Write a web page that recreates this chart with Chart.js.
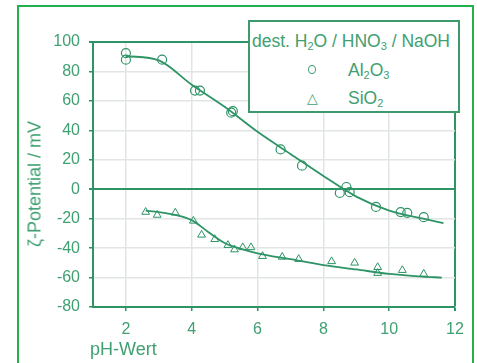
<!DOCTYPE html>
<html>
<head>
<meta charset="utf-8">
<script src="https://cdn.jsdelivr.net/npm/chart.js@4"></script>
<style>
  html, body { margin: 0; padding: 0; background: #fff; overflow: hidden; }
  body { width: 477px; height: 363px; position: relative; font-family: Arial, "Liberation Sans", Helvetica, sans-serif; color: #3fa071; }
  #c { position: absolute; left: 0; top: 0; }
  #frame { position: absolute; left: 17px; top: 5px; width: 453px; height: 400px; border: 2px solid #22b14c; }
  #legend { position: absolute; left: 248px; top: 20px; width: 208px; height: 89px; border: 2px solid #3c9a6c; background: #fff; }
  #legend div { position: absolute; white-space: nowrap; font-size: 17.5px; line-height: 18px; }
  #legend sub { font-size: 11px; vertical-align: -3px; line-height: 0; }
  #legend .ring { width: 6px; height: 7px; border: 1.3px solid #3fa071; border-radius: 50%; }
  #ytitle { position: absolute; left: 35px; top: 184px; font-size: 18px; white-space: nowrap; transform: translate(-50%, -50%) rotate(-90deg); }
  #xtitle { position: absolute; left: 90px; top: 339px; font-size: 18px; white-space: nowrap; }
</style>
</head>
<body>
<canvas id="c" width="477" height="363"></canvas>
<div id="frame"></div>
<div id="legend">
  <div style="left:2px; top:10px;">dest. H<sub>2</sub>O / HNO<sub>3</sub> / NaOH</div>
  <div class="ring" style="left:58px; top:43px;"></div>
  <div style="left:98px; top:39px;">Al<sub>2</sub>O<sub>3</sub></div>
  <div style="left:57px; top:67px; font-size:14px;">&#9651;</div>
  <div style="left:98px; top:67px;">SiO<sub>2</sub></div>
</div>
<div id="ytitle">ζ-Potential / mV</div>
<div id="xtitle">pH-Wert</div>
<script>
/* ============ Data ============ */
const alPh   = [2.0, 2.0, 3.1, 4.1, 4.25, 5.2, 5.25, 6.7, 7.35, 8.5, 8.7, 8.8, 9.6, 10.35, 10.55, 11.05];
const alZeta = [92.5, 88, 88, 67, 67, 52, 53, 27, 16, -2.5, 1.5, -2, -12, -15.5, -16, -19];

const siPh   = [2.6, 2.95, 3.5, 4.05, 4.3, 4.7, 5.1, 5.3, 5.55, 5.8, 6.15, 6.75, 7.25, 8.25, 8.95, 9.65, 9.65, 10.4, 11.05];
const siZeta = [-15.5, -17.5, -16, -21.5, -31, -34, -38, -41, -39.5, -39.5, -45.5, -46, -47.5, -49, -50, -53, -57, -55, -57.5];

// fitted curves
const alFitPh   = [2, 3, 4, 5, 6, 7, 8, 9, 10, 11, 11.65];
const alFitZeta = [90.5, 87.5, 71, 56, 39, 24, 9, -5, -14.5, -19.8, -23];
const siFitPh   = [2.6, 3, 3.5, 4, 4.5, 5, 5.5, 6, 7, 8, 9, 10, 11, 11.6];
const siFitZeta = [-14.5, -15.5, -17.5, -21, -29, -36.5, -40.5, -43.5, -47.5, -51.5, -54.5, -57.5, -59.3, -60];

const xTicks = [2, 4, 6, 8, 10, 12];
const yTicks = [-80, -60, -40, -20, 0, 20, 40, 60, 80, 100];

/* ============ Styles ============ */
const GREEN = "#2e9466";
const TEXT = "#3fa071";
const GRID = "#e2e6e3";
const FONT = "Arial, 'Liberation Sans', Helvetica, sans-serif";

const pts = (xs, ys) => xs.map((x, i) => ({x, y: ys[i]}));

new Chart(document.getElementById("c"), {
    type: "scatter",
    data: {
        datasets: [
            {data: pts(alFitPh, alFitZeta), showLine: true, cubicInterpolationMode: "monotone",
             borderColor: GREEN, borderWidth: 1.8, pointRadius: 0},
            {data: pts(siFitPh, siFitZeta), showLine: true, cubicInterpolationMode: "monotone",
             borderColor: GREEN, borderWidth: 1.8, pointRadius: 0},
            {data: pts(alPh, alZeta), pointStyle: "circle", pointRadius: 4.5,
             borderColor: GREEN, borderWidth: 1.2, backgroundColor: "rgba(0,0,0,0)"},
            {data: pts(siPh, siZeta), pointStyle: "triangle", pointRadius: 4.5,
             borderColor: GREEN, borderWidth: 1, backgroundColor: "rgba(0,0,0,0)"}
        ]
    },
    options: {
        responsive: false,
        animation: false,
        layout: {padding: {left: 0, top: 42, right: 22, bottom: 0}},
        plugins: {legend: {display: false}, tooltip: {enabled: false}},
        scales: {
            x: {
                type: "linear", min: 1, max: 12,
                afterBuildTicks: s => { s.ticks = xTicks.map(v => ({value: v})); },
                afterFit: s => { s.height = 56; },
                border: {color: GREEN, width: 2},
                grid: {
                    color: c => c.tick && c.tick.value === 12 ? GREEN : GRID,
                    lineWidth: c => c.tick && c.tick.value === 12 ? 2 : 1.5,
                    tickColor: GREEN, tickLength: 4
                },
                ticks: {color: TEXT, font: {family: FONT, size: 16}, padding: 9}
            },
            y: {
                min: -80, max: 100,
                afterBuildTicks: s => { s.ticks = yTicks.map(v => ({value: v})); },
                afterFit: s => { s.width = 93; },
                border: {color: GREEN, width: 2},
                grid: {
                    color: c => c.tick && (c.tick.value === 0 || c.tick.value === 100) ? GREEN : GRID,
                    lineWidth: c => c.tick && (c.tick.value === 0 || c.tick.value === 100) ? 2 : 1.5,
                    tickColor: GREEN, tickLength: 4
                },
                ticks: {color: TEXT, font: {family: FONT, size: 16}, padding: 9}
            }
        }
    }
});
</script>
</body>
</html>
